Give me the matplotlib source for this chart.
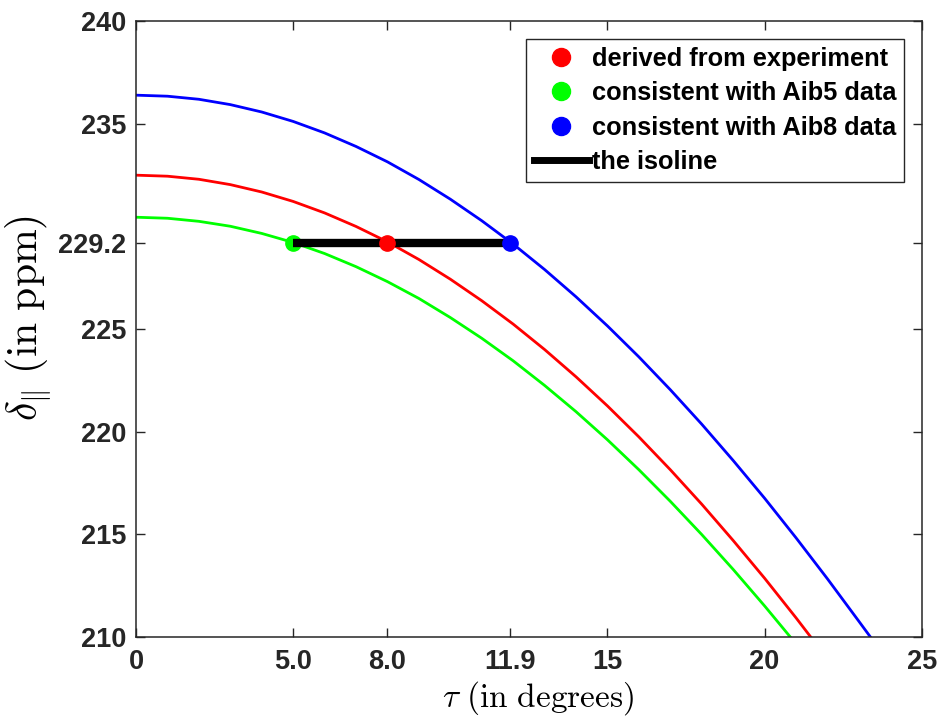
import matplotlib
matplotlib.use("Agg")
import matplotlib.pyplot as plt
from matplotlib.lines import Line2D

plt.rcParams['mathtext.fontset'] = 'cm'
plt.rcParams['font.family'] = ['Liberation Sans', 'DejaVu Sans']

# curves (tau in degrees, delta in ppm)
tau_exp = [0, 1, 2, 3, 4, 5, 6, 7, 8, 9, 10, 11, 12, 13, 14, 15, 16, 17, 18, 19, 20, 21, 21.46]
delta_exp = [232.50, 232.45, 232.30, 232.04, 231.68, 231.22, 230.66, 230.00, 229.25, 228.39,
             227.43, 226.38, 225.24, 224.00, 222.67, 221.25, 219.74, 218.14, 216.46, 214.69,
             212.85, 210.92, 210.0]

tau_aib5 = [0, 1, 2, 3, 4, 5, 6, 7, 8, 9, 10, 11, 12, 13, 14, 15, 16, 17, 18, 19, 20, 20.81]
delta_aib5 = [230.45, 230.40, 230.25, 230.01, 229.66, 229.22, 228.68, 228.04, 227.31, 226.49,
              225.56, 224.55, 223.45, 222.25, 220.97, 219.60, 218.14, 216.60, 214.98, 213.28,
              211.50, 210.0]

tau_aib8 = [0, 1, 2, 3, 4, 5, 6, 7, 8, 9, 10, 11, 12, 13, 14, 15, 16, 17, 18, 19, 20, 21, 22, 23, 23.36]
delta_aib8 = [236.40, 236.35, 236.20, 235.94, 235.58, 235.12, 234.56, 233.90, 233.15, 232.29,
              231.33, 230.28, 229.14, 227.90, 226.57, 225.15, 223.64, 222.04, 220.36, 218.59,
              216.75, 214.82, 212.82, 210.75, 210.0]

# the isoline and its three points
iso_delta = 229.2
iso_tau = [5.0, 11.9]
pt_exp = 8.0
pt_aib5 = 5.0
pt_aib8 = 11.9

xticks = [0, 5.0, 8.0, 11.9, 15, 20, 25]
xticklabels = ["0", "5.0", "8.0", "11.9", "15", "20", "25"]
yticks = [210, 215, 220, 225, 229.2, 235, 240]
yticklabels = ["210", "215", "220", "225", "229.2", "235", "240"]

fig = plt.figure(figsize=(9.38, 7.18), dpi=100)
ax = fig.add_axes([0.145, 0.1132, 0.8377, 0.8571])

ax.plot(tau_aib8, delta_aib8, color=(0, 0, 1), linewidth=2)
ax.plot(tau_exp, delta_exp, color=(1, 0, 0), linewidth=2)
ax.plot(tau_aib5, delta_aib5, color=(0, 1, 0), linewidth=2)

ax.plot([pt_aib5], [iso_delta], "o", color=(0, 1, 0), markersize=11, zorder=3)
ax.plot(iso_tau, [iso_delta, iso_delta], color="black", linewidth=6, zorder=4, solid_capstyle="butt")
ax.plot([pt_exp], [iso_delta], "o", color=(1, 0, 0), markersize=11, zorder=5)
ax.plot([pt_aib8], [iso_delta], "o", color=(0, 0, 1), markersize=11, zorder=5)

ax.set_xlim(0, 25)
ax.set_ylim(210, 240)
ax.set_xticks(xticks)
ax.set_xticklabels(xticklabels, fontweight="bold")
ax.set_yticks(yticks)
ax.set_yticklabels(yticklabels, fontweight="bold")
ax.tick_params(direction="in", length=6.5, width=1, top=True, right=True,
               labelsize=19.5, colors="#262626")
ax.tick_params(axis="x", pad=9)
ax.tick_params(axis="y", pad=7)
for s in ax.spines.values():
    s.set_color("#262626")
    s.set_linewidth(1.1)

# x label sits right at the bottom edge, as in the original
ax.set_xlabel(r"$\tau\ \mathrm{(in\ degrees)}$", fontsize=24, va="bottom")
ax.xaxis.set_label_coords(538 / 938, 1 / 718, transform=fig.transFigure)
ax.set_ylabel(r"$\delta_{\|}\ \mathrm{(in\ ppm)}$", fontsize=30)
ax.yaxis.set_label_coords(-0.104, 0.518)

handles = [Line2D([], [], linestyle="none", marker="o", color=(1, 0, 0), markersize=13),
           Line2D([], [], linestyle="none", marker="o", color=(0, 1, 0), markersize=13),
           Line2D([], [], linestyle="none", marker="o", color=(0, 0, 1), markersize=13),
           Line2D([], [], color="black", linewidth=5)]
labels = ["derived from experiment", "consistent with Aib5 data",
          "consistent with Aib8 data", "the isoline"]
leg = ax.legend(handles, labels, loc="upper right", bbox_to_anchor=(0.9775, 0.971),
                borderaxespad=0, fancybox=False, edgecolor="#262626", framealpha=1,
                prop={"weight": "bold", "size": 18.3}, handlelength=2.2, handletextpad=0.1,
                labelspacing=0.41, borderpad=0.3)
leg.get_frame().set_linewidth(1)

fig.savefig("out.png", dpi=100)
